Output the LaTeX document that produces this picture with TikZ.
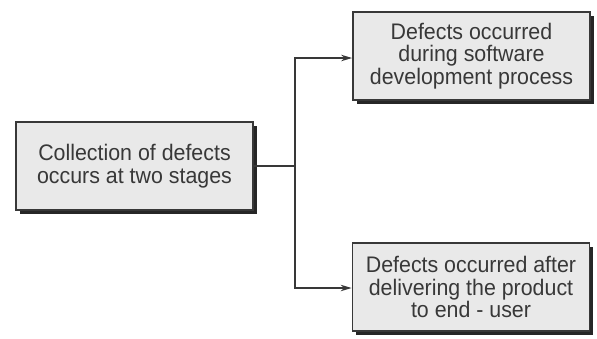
\documentclass[tikz,border=0pt]{standalone}
\usepackage{fontspec}
\setmainfont[FakeStretch=0.95]{Liberation Sans}
\usetikzlibrary{positioning,calc,shadows,arrows.meta}
\definecolor{boxgray}{HTML}{E9E9E9}
\definecolor{inkgray}{HTML}{383838}

\begin{document}
\begin{tikzpicture}[x=1pt, y=-1pt,
    stagebox/.style={draw=inkgray, line width=1.8pt, fill=boxgray,
        minimum width=237pt, minimum height=88pt, align=center, inner sep=2pt,
        text=inkgray, font=\fontsize{22.5}{22.5}\selectfont,
        general shadow={fill=black!85, shadow xshift=3.5pt, shadow yshift=-3.5pt}},
    link/.style={draw=inkgray, line width=1.2pt},
    tip/.style={-{Stealth[length=11pt,width=6.5pt]}}]
    \useasboundingbox (0,0) rectangle (597,338);
    % --- source box ---
    \node[stagebox] (collect) at (134.5,166) {Collection of defects\\occurs at two stages};
    % --- the two stages ---
    \node[stagebox] (during) at (471.5,56) {Defects occurred\\during software\\development process};
    \node[stagebox] (after) at (471,287) {Defects occurred after\\delivering the product\\to end - user};
    % fork point
    \coordinate (fork) at (295,166);
    \draw[link] (collect.east) -- (fork);
    \draw[link, tip] (fork) |- ($(during.west)+(0,2)$);
    \draw[link, tip] (fork) |- ($(after.west)+(0,1)$);
\end{tikzpicture}
\end{document}
